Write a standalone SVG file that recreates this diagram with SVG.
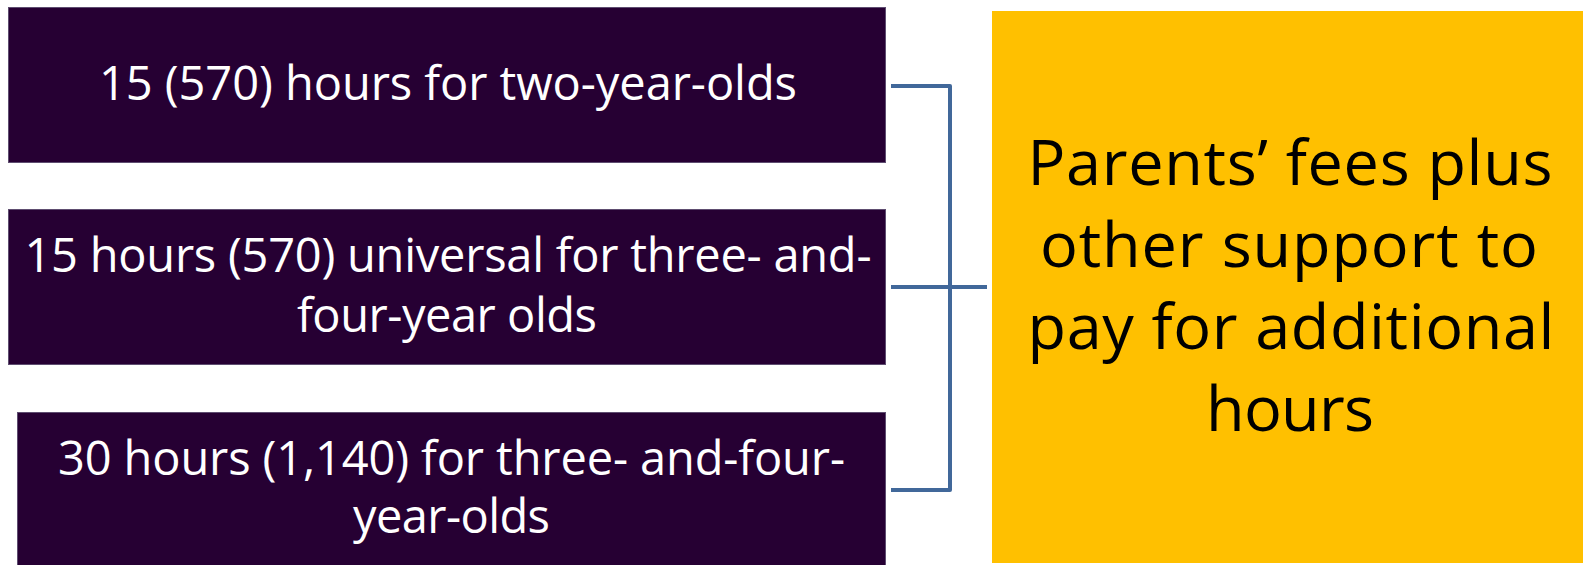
<svg xmlns="http://www.w3.org/2000/svg" width="1583" height="565" viewBox="0 0 1583 565">
  <style>
    .box { fill: #260033; stroke: #5e4d70; stroke-width: 1; }
    .goal { fill: #FFC000; }
    .wt { fill: #ffffff; font-family: "Open Sans", "Noto Sans", sans-serif; font-size: 47px; text-anchor: middle; }
    .bt { fill: #000000; font-family: "Open Sans", "Noto Sans", sans-serif; font-size: 63px; text-anchor: middle; }
    .conn { fill: none; stroke: #41689A; stroke-width: 4; stroke-linejoin: round; }
  </style>
  <rect width="1583" height="565" fill="#ffffff"/>
  <g id="node-two-year-olds">
    <rect class="box" x="8.5" y="7.5" width="877" height="155"/>
    <text class="wt" x="448" y="100" textLength="698">15 (570) hours for two-year-olds</text>
  </g>
  <g id="node-universal">
    <rect class="box" x="8.5" y="209.5" width="877" height="155"/>
    <text class="wt" x="448" y="272" textLength="847">15 hours (570) universal for three- and-</text>
    <text class="wt" x="447" y="332" textLength="300">four-year olds</text>
  </g>
  <g id="node-thirty-hours">
    <rect class="box" x="17.5" y="412.5" width="868" height="160"/>
    <text class="wt" x="451.5" y="475" textLength="787">30 hours (1,140) for three- and-four-</text>
    <text class="wt" x="451.5" y="533" textLength="197">year-olds</text>
  </g>
  <g id="node-parents-fees">
    <rect class="goal" x="992" y="11" width="591" height="552"/>
    <text class="bt" x="1290" y="185" textLength="525">Parents’ fees plus</text>
    <text class="bt" x="1289" y="267" textLength="498">other support to</text>
    <text class="bt" x="1291" y="349" textLength="527">pay for additional</text>
    <text class="bt" x="1290" y="431" textLength="168">hours</text>
  </g>
  <g id="connectors">
    <path class="conn" d="M891,86 H950 V490 H891"/>
    <path class="conn" d="M891,287 H987"/>
  </g>
</svg>
